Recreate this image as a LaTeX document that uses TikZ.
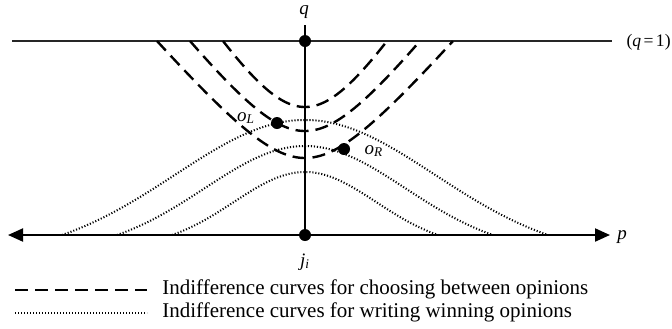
\documentclass[tikz,border=0pt]{standalone}
\usepackage{fontspec}
\setmainfont{Liberation Serif}
\usetikzlibrary{arrows.meta}
\begin{document}
\begin{tikzpicture}[x=0.5pt,y=-0.5pt,
  dashcurve/.style={line width=1.2pt, dash pattern=on 6.5pt off 3.5pt},
  dotcurve/.style={line width=1pt, dash pattern=on 0.55pt off 0.95pt},
  axisline/.style={line width=1pt},
  dotmark/.style={circle, fill=black, inner sep=0pt, minimum size=6pt},
  lbl/.style={font=\fontsize{9.5}{11}\selectfont, inner sep=0pt},
  legtext/.style={font=\fontsize{10.5}{12}\selectfont, anchor=west, inner sep=0pt}
]
\useasboundingbox (0,0) rectangle (672,328);

% axes and reference line
\coordinate (qtop) at (305,25);
\coordinate (topL) at (12,41);
\coordinate (topR) at (612,41);
\coordinate (axL) at (8,235);
\coordinate (axR) at (610,235);

\draw[line width=0.55pt, black!85] (topL) -- (topR);
\draw[axisline, {Triangle[length=7.5pt,width=6.5pt]}-{Triangle[length=7.5pt,width=6.5pt]}] (axL) -- (axR);

% dotted curves (writing winning opinions)
\foreach \w/\H in {133/63, 188/89, 243/115}
  \draw[dotcurve] plot[domain=-1:1, samples=90, smooth]
    ({305+\x*\w}, {235-\H*(exp(-1.747*\x*\x)-0.1743)/0.8257});

% dashed curves (choosing between opinions)
\foreach \w/\v in {82/107, 115/131, 148/158}
  \draw[dashcurve] plot[domain=-1:1, samples=90, smooth]
    ({305+\x*\w}, {\v-(\v-41)*(sqrt(0.36+(\x*\w/100)^2)-0.6)/(sqrt(0.36+(\w/100)^2)-0.6)});

% dots
\node[dotmark] (qdot) at (305,41) {};
\node[dotmark] (jdot) at (305,235) {};
\node[dotmark] (oL) at (277,123) {};
\node[dotmark] (oR) at (344,149) {};

\draw[axisline] (qtop) -- (jdot.center);

% labels
\node[lbl] (qlab) at (304,12) {\textit{q}};
\node[lbl, anchor=east, font=\fontsize{8.8}{10}\selectfont] (q1lab) at (671,42) {(\textit{q}\kern1.2pt=\kern1.2pt1)};
\node[lbl, anchor=west] (plab) at (617,237) {\textit{p}};
\node[lbl] (jlab) at (305,262) {\textit{j}\textsubscript{\textit{i}}};
\node[lbl] (oLlab) at (246,118) {\textit{o}\textsubscript{\textit{L}}};
\node[lbl] (oRlab) at (374,151) {\textit{o}\textsubscript{\textit{R}}};

% legend
\coordinate (l1a) at (15,290);
\coordinate (l1b) at (147,290);
\coordinate (l2a) at (15,313);
\coordinate (l2b) at (147,313);
\draw[dashcurve] (l1a) -- (l1b);
\draw[dotcurve] (l2a) -- (l2b);
\node[legtext] (leg1) at (162,289) {Indifference curves for choosing between opinions};
\node[legtext] (leg2) at (162,312) {Indifference curves for writing winning opinions};
\end{tikzpicture}
\end{document}
